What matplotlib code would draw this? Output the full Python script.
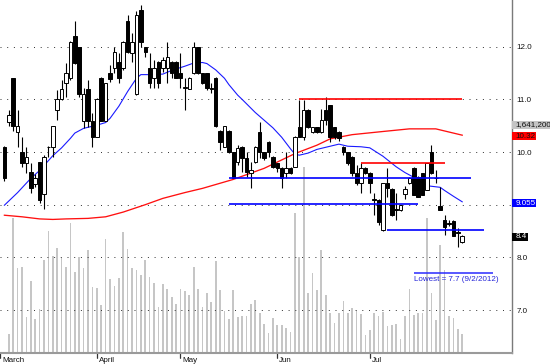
import numpy as np
import matplotlib
matplotlib.use('Agg')
import matplotlib.pyplot as plt
from matplotlib.patches import Rectangle
import matplotlib.transforms as mtransforms

plt.rcParams['font.family'] = ['Liberation Sans', 'DejaVu Sans']

# ---------------- data ----------------
bar_index = list(range(-1, 104))
opens = [10.09, 10.57, 11.40, 10.38, 10.00, 9.79, 9.62, 9.39, 9.81, 9.20,
         10.09, 10.10, 10.80, 11.01, 11.31, 11.41, 12.20, 11.99, 10.59, 11.20,
         10.59, 10.29, 11.41, 10.59, 11.50, 11.60, 11.71, 11.60, 12.49, 11.88,
         11.10, 12.70, 11.99, 11.60, 11.41, 11.71, 11.60, 11.60, 11.71, 11.71,
         11.50, 11.22, 11.20, 11.50, 11.99, 11.50, 11.50, 11.22, 11.41, 10.40,
         10.10, 10.40, 10.00, 9.81, 10.10, 9.88, 9.60, 9.81, 10.38, 10.00,
         10.19, 9.91, 9.79, 9.70, 9.60, 9.70, 9.72, 10.47, 10.29, 10.80,
         10.38, 10.47, 10.38, 10.80, 10.89, 10.47, 10.38, 10.10, 10.00, 9.91,
         9.60, 9.41, 9.70, 9.60, 9.10, 9.09, 8.52, 9.41, 9.30, 8.92,
         8.90, 9.20, 9.41, 9.70, 9.53, 9.60, 9.28, 10.00, 9.51, 8.97,
         8.71, 8.65, 8.69, 8.48, 8.30]
highs = [10.12, 10.80, 11.41, 10.80, 10.29, 10.10, 9.79, 9.58, 9.82, 9.94,
         10.11, 10.50, 11.18, 11.37, 11.69, 12.10, 12.49, 12.00, 11.22, 11.37,
         10.74, 11.02, 11.42, 11.32, 11.65, 11.99, 11.88, 12.10, 12.60, 12.26,
         12.68, 12.79, 12.00, 11.88, 11.75, 11.72, 11.80, 12.09, 11.72, 11.72,
         11.88, 11.41, 11.42, 12.09, 12.00, 11.51, 11.51, 11.31, 11.42, 10.41,
         10.50, 10.41, 10.01, 10.13, 10.11, 10.00, 9.81, 10.11, 10.57, 10.01,
         10.20, 9.92, 9.80, 9.71, 10.00, 9.71, 10.30, 10.99, 10.99, 10.81,
         10.48, 10.48, 10.82, 11.05, 10.90, 10.48, 10.39, 10.12, 10.01, 9.92,
         9.75, 9.79, 9.72, 9.62, 9.22, 9.10, 9.42, 9.70, 9.31, 9.22,
         9.00, 9.35, 9.52, 9.71, 9.54, 9.61, 9.80, 10.13, 9.66, 9.34,
         8.80, 8.70, 8.71, 8.56, 8.42]
lows = [9.45, 10.49, 10.40, 10.10, 9.72, 9.60, 9.22, 9.34, 9.03, 8.92,
        9.91, 9.91, 10.61, 10.99, 11.04, 11.37, 11.68, 11.04, 10.46, 10.48,
        10.10, 10.28, 10.58, 10.58, 11.33, 11.50, 11.31, 11.56, 11.88, 11.71,
        11.09, 11.99, 11.80, 11.22, 11.22, 11.22, 11.52, 11.31, 11.41, 11.40,
        11.22, 10.80, 11.19, 11.49, 11.49, 11.30, 11.18, 11.12, 10.48, 10.04,
        10.09, 9.99, 9.50, 9.75, 9.62, 9.52, 9.32, 9.80, 9.89, 9.85,
        9.91, 9.70, 9.62, 9.32, 9.51, 9.58, 9.71, 10.28, 10.23, 10.46,
        10.37, 10.37, 10.37, 10.51, 10.19, 10.25, 10.20, 9.95, 9.75, 9.55,
        9.38, 9.22, 9.58, 9.22, 8.80, 8.62, 8.50, 9.15, 8.78, 8.71,
        8.88, 9.10, 9.40, 9.18, 9.14, 9.18, 9.27, 9.59, 9.41, 8.89,
        8.42, 8.60, 8.40, 8.20, 8.28]
closes = [9.51, 10.70, 10.49, 10.49, 9.79, 9.91, 9.32, 9.51, 9.09, 9.91,
          10.10, 10.49, 11.01, 11.20, 11.50, 12.09, 11.69, 11.10, 11.10, 10.59,
          10.29, 11.01, 10.59, 11.31, 11.39, 11.90, 11.41, 12.09, 11.90, 12.09,
          12.60, 12.09, 11.90, 11.31, 11.60, 11.31, 11.75, 11.80, 11.50, 11.41,
          11.41, 11.23, 11.41, 11.99, 11.50, 11.31, 11.22, 11.20, 10.49, 10.19,
          10.49, 10.00, 9.51, 10.08, 9.89, 9.62, 9.66, 10.10, 10.00, 9.89,
          10.00, 9.72, 9.70, 9.51, 9.70, 9.60, 10.29, 10.29, 10.80, 10.47,
          10.47, 10.38, 10.61, 10.61, 10.29, 10.29, 10.27, 10.00, 9.79, 9.60,
          9.41, 9.70, 9.60, 9.41, 9.08, 8.67, 9.41, 9.32, 8.80, 8.90,
          8.99, 9.30, 9.51, 9.19, 9.15, 9.19, 9.79, 9.60, 9.50, 8.90,
          8.58, 8.64, 8.41, 8.46, 8.40]

vol_index = list(range(0, 104))
volume_k = [1641, 11690, 7370, 7456, 3136, 6247, 2964, 3802, 8035, 10541,
            8381, 9098, 8234, 7404, 11206, 7024, 8320, 7370, 8899, 5676,
            5590, 4147, 9824, 6420, 5789, 6454, 10480, 9012, 7318, 7171,
            6739, 8035, 6540, 6074, 3948, 5962, 5504, 4864, 4234, 5504,
            5357, 5011, 7456, 5556, 3948, 5158, 4406, 7975, 5443, 3629,
            2938, 5443, 3136, 3197, 3197, 4234, 4579, 3482, 2506, 1702,
            2998, 2393, 2419, 2160, 1814, 12122, 8268, 16070, 5210, 6938,
            5443, 8899, 5011, 3430, 2566, 3430, 4519, 3430, 3888, 3715,
            3370, 1555, 1987, 3430, 3197, 3568, 2333, 2419, 2506, 1184,
            3197, 5504, 3283, 3482, 3482, 11638, 5158, 2851, 9331, 7171,
            3197, 2998, 2100, 1641]

blue_ma_idx = [-1, 2, 5, 7, 10, 12, 14, 15, 17, 20, 22, 23, 25, 27, 29, 30, 32, 35,
               37, 40, 42, 44, 45, 47, 49, 50, 52, 53, 56, 60, 62, 64, 65, 66, 68,
               70, 73, 75, 77, 80, 82, 85, 88, 90, 92, 95, 98, 99, 101, 103]
blue_ma_val = [8.99, 9.23, 9.50, 9.65, 9.93, 10.08, 10.26, 10.36, 10.45, 10.51,
               10.56, 10.64, 10.87, 11.15, 11.40, 11.47, 11.47, 11.48, 11.55, 11.63,
               11.69, 11.70, 11.68, 11.56, 11.40, 11.28, 11.08, 11.00, 10.75, 10.46,
               10.28, 10.06, 9.96, 9.94, 9.98, 10.05, 10.11, 10.15, 10.11, 10.10,
               10.08, 9.92, 9.72, 9.61, 9.52, 9.36, 9.33, 9.27, 9.16, 9.055]

red_ma_idx = [-1, 3, 7, 10, 13, 18, 22, 26, 31, 35, 40, 44, 51, 58, 65, 70, 73,
              78, 85, 91, 97, 100, 103]
red_ma_val = [8.80, 8.77, 8.73, 8.72, 8.73, 8.74, 8.77, 8.86, 9.00, 9.12, 9.23,
              9.31, 9.48, 9.69, 9.97, 10.13, 10.25, 10.33, 10.39, 10.44, 10.44,
              10.38, 10.32]

month_labels = ['March', 'April', 'May', 'Jun', 'Jul']
month_idx = [-2, 20, 39, 61, 82]

price_ticks = [7.0, 8.0, 9.0, 10.0, 11.0, 12.0]
price_tick_labels = ['7.0', '8.0', '', '10.0', '11.0', '12.0']

red_levels = [11.0, 9.80]
red_starts = [66, 80]
red_ends = [103, 99]
blue_levels = [9.50, 9.01, 8.52]
blue_starts = [50, 50, 86]
blue_ends = [105, 93, 108]

lowest_value = 7.7
lowest_text = 'Lowest = 7.7 (9/2/2012)'
last_volume_text = '1,641,200'
last_red_text = '10.32'
last_blue_text = '9.055'
last_close_text = '8.4'

# ---------------- figure ----------------
W, H = 550, 364
fig = plt.figure(figsize=(W / 100, H / 100), dpi=100)
plot_w, plot_h = 512, 353
pos = [0, (H - plot_h) / H, plot_w / W, plot_h / H]
axv = fig.add_axes(pos)
ax = fig.add_axes(pos, sharex=axv)
ax.patch.set_visible(False)

px_per_bar = 4.45
x0_px = 3.3
xmin = -x0_px / px_per_bar
xmax = (plot_w - x0_px) / px_per_bar
price_top = 12.887
px_per_unit = 52.66
price_bot = price_top - plot_h / px_per_unit

# volume
axv.bar(vol_index, volume_k, width=0.38, color='#c6c6c6', linewidth=0, zorder=1)
for s in axv.spines.values():
    s.set_visible(False)
axv.set_xticks([])
axv.set_yticks([])

# grid
for p in price_ticks:
    ax.axhline(p, color='#3a3a3a', lw=0.72, ls=(0, (1, 5.7)), zorder=1)

# moving averages
ax.plot(red_ma_idx, red_ma_val, color='#ff1010', lw=0.95, zorder=2)
ax.plot(blue_ma_idx, blue_ma_val, color='#1a1aff', lw=0.8, zorder=2)

# candles
o = np.array(opens); h = np.array(highs); l = np.array(lows); c = np.array(closes)
xi = np.array(bar_index)
ax.vlines(xi, l, h, color='black', lw=0.8, zorder=3)
up = c >= o
bottoms = np.minimum(o, c)
heights = np.maximum(np.abs(c - o), 0.004)
ax.bar(xi[up], heights[up], bottom=bottoms[up], width=0.8, facecolor='white',
       edgecolor='black', linewidth=0.7, zorder=4)
ax.bar(xi[~up], heights[~up], bottom=bottoms[~up], width=0.8, facecolor='black',
       edgecolor='black', linewidth=0.7, zorder=4)

# level lines
for lv, s, e in zip(red_levels, red_starts, red_ends):
    ax.plot([s, e], [lv, lv], color='#ff0000', lw=1.2, zorder=5, solid_capstyle='butt')
for lv, s, e in zip(blue_levels, blue_starts, blue_ends):
    ax.plot([s, e], [lv, lv], color='#0000ff', lw=1.2, zorder=5, solid_capstyle='butt')

# lowest annotation
low_start = (413 - x0_px) / px_per_bar
low_end = (493 - x0_px) / px_per_bar
ax.plot([low_start, low_end], [lowest_value, lowest_value], color='#2a2aff', lw=1.1,
        zorder=5, solid_capstyle='butt')
ax.text(low_start, lowest_value - 0.12, lowest_text, color='#2424d8', fontsize=5.8,
        ha='left', va='center', zorder=6)

# limits (set after all plotting so autoscaling does not move them)
axv.set_xlim(xmin, xmax)
ax.set_xlim(xmin, xmax)
axv.set_ylim(0, 30500)
ax.set_ylim(price_bot, price_top)

# spines
ax.spines['top'].set_visible(False)
ax.spines['left'].set_visible(False)
ax.spines['right'].set_color('#7a7a7a')
ax.spines['right'].set_linewidth(1.0)
ax.spines['bottom'].set_color('#9a9a9a')
ax.spines['bottom'].set_linewidth(1.5)

# y ticks on right
ax.set_yticks(price_ticks)
ax.set_yticklabels(price_tick_labels)
ax.tick_params(axis='y', left=False, right=True, labelleft=False, labelright=True,
               length=0, pad=3.2, labelsize=5.8, labelcolor='#111111')

# x ticks
ax.set_xticks(month_idx)
ax.set_xticklabels([])
ax.tick_params(axis='x', length=3.5, width=0.8, color='#333333', direction='out')
trans_x = mtransforms.blended_transform_factory(ax.transData, ax.transAxes)
for m, lab in zip(month_idx, month_labels):
    ax.text(m + 0.45, -(8.7 / plot_h), lab, transform=trans_x, ha='left',
            va='baseline', fontsize=5.8, color='#111111', clip_on=False)

# right side value boxes
ty = ax.get_yaxis_transform()
def value_box(center, text, face, tcolor, width_px, height_px=7.8):
    hd = height_px / px_per_unit
    ax.add_patch(Rectangle((1.0, center - hd / 2), width_px / plot_w, hd, transform=ty,
                           facecolor=face, edgecolor='none', clip_on=False, zorder=10))
    ax.text(1.0 + 3.5 / plot_w, center, text, transform=ty, ha='left', va='center',
            fontsize=5.8, color=tcolor, clip_on=False, zorder=11)

red_last = red_ma_val[-1]
blue_last = blue_ma_val[-1]
close_last = closes[-1]
value_box(red_last + 0.195, last_volume_text, '#c4c4c4', '#111111', 40)
value_box(red_last - 0.02, last_red_text, '#ff0000', '#111111', 23.5)
value_box(blue_last - 0.028, last_blue_text, '#0000ff', 'white', 23.5)
value_box(close_last - 0.01, last_close_text, '#000000', 'white', 15.5)

fig.savefig('out.png', dpi=100)
